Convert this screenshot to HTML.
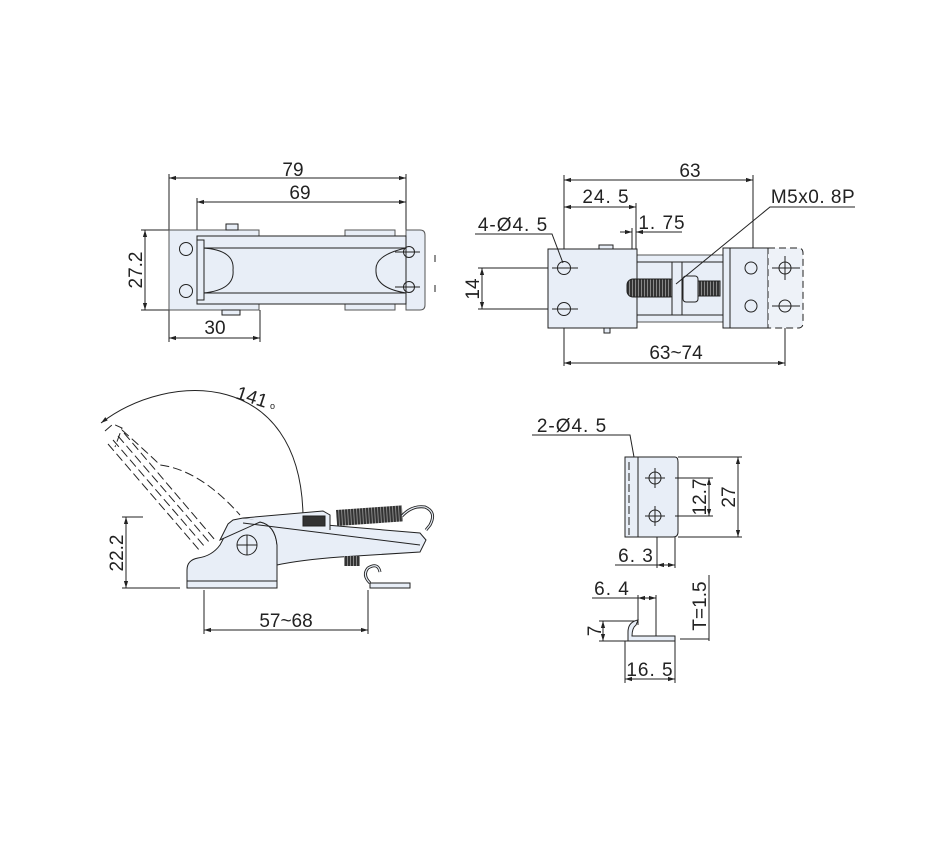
<!DOCTYPE html>
<html><head><meta charset="utf-8"><style>
html,body{margin:0;padding:0;background:#fff;}
svg{display:block;}
text{font-family:"Liberation Sans",Arial,sans-serif;font-size:19px;fill:#222;}
</style></head><body>
<svg width="928" height="858" viewBox="0 0 928 858" xmlns="http://www.w3.org/2000/svg">
<defs>
<marker id="a" viewBox="0 0 10 10" refX="10" refY="5" markerWidth="7" markerHeight="7" orient="auto-start-reverse"><path d="M0,2 L10,5 L0,8 z" fill="#222"/></marker>
<pattern id="thr" width="3" height="10" patternUnits="userSpaceOnUse"><rect width="3" height="10" fill="#888"/><rect width="2" height="10" fill="#333"/></pattern>
</defs>
<g stroke="#222" stroke-width="1" fill="none">

<!-- ===== TOP LEFT ===== -->
<line x1="169" y1="174" x2="169" y2="342"/>
<line x1="197" y1="198" x2="197" y2="240"/>
<line x1="406" y1="174" x2="406" y2="245"/>
<line x1="260" y1="310" x2="260" y2="342"/>
<line x1="169" y1="178" x2="406" y2="178" marker-start="url(#a)" marker-end="url(#a)"/>
<line x1="197" y1="202" x2="406" y2="202" marker-start="url(#a)" marker-end="url(#a)"/>
<line x1="169" y1="338" x2="260" y2="338" marker-start="url(#a)" marker-end="url(#a)"/>
<line x1="141" y1="230" x2="190" y2="230"/>
<line x1="141" y1="310" x2="190" y2="310"/>
<line x1="145" y1="230" x2="145" y2="310" marker-start="url(#a)" marker-end="url(#a)"/>
<rect x="169" y="230" width="90" height="80" fill="#e8eef7" stroke="#555"/>
<rect x="345" y="230" width="50" height="80" fill="#e8eef7" stroke="#555"/>
<rect x="226" y="224" width="12" height="6" fill="#e8eef7"/>
<rect x="222" y="310" width="18" height="5" fill="#e8eef7"/>
<path d="M406,230 H420 Q425,230 425,235 V305 Q425,310 420,310 H406 Z" fill="#e8eef7" stroke="#555"/>
<line x1="435" y1="255" x2="435" y2="262" />
<line x1="435" y1="285" x2="435" y2="292" />
<rect x="197" y="236" width="209" height="68" fill="#e8eef7"/>
<line x1="203" y1="248" x2="406" y2="248"/>
<line x1="203" y1="293" x2="406" y2="293"/>
<path d="M203,248 Q235,250 233,270 Q235,290 203,293"/>
<path d="M406,248 Q375,255 376,270 Q375,288 406,293"/>
<rect x="197" y="240" width="7" height="60" fill="#e8eef7"/>
<circle cx="186" cy="249" r="6.5"/><circle cx="186" cy="291" r="6.5"/>
<circle cx="409" cy="252" r="5.5"/><circle cx="409" cy="287" r="5.5"/>
<line x1="395" y1="252" x2="420" y2="252"/><line x1="395" y1="287" x2="420" y2="287"/>

<!-- ===== TOP RIGHT ===== -->
<line x1="564" y1="175" x2="564" y2="366"/>
<line x1="753" y1="175" x2="753" y2="268"/>
<line x1="785" y1="305" x2="785" y2="366"/>
<line x1="636" y1="203" x2="636" y2="250"/>
<line x1="632" y1="228" x2="632" y2="290"/>
<line x1="564" y1="180" x2="753" y2="180" marker-start="url(#a)" marker-end="url(#a)"/>
<line x1="564" y1="207" x2="636" y2="207" marker-start="url(#a)" marker-end="url(#a)"/>
<line x1="620" y1="232" x2="632" y2="232" marker-end="url(#a)"/>
<line x1="648" y1="232" x2="636" y2="232" marker-end="url(#a)"/>
<line x1="648" y1="232" x2="682" y2="232"/>
<line x1="564" y1="363" x2="785" y2="363" marker-start="url(#a)" marker-end="url(#a)"/>
<line x1="478" y1="268" x2="578" y2="268"/>
<line x1="478" y1="309" x2="578" y2="309"/>
<line x1="482" y1="268" x2="482" y2="309" marker-start="url(#a)" marker-end="url(#a)"/>
<rect x="637" y="255" width="86" height="67" fill="#e8eef7" stroke="#555"/>
<line x1="637" y1="262" x2="723" y2="262"/><line x1="637" y1="315" x2="723" y2="315"/>
<rect x="548" y="249" width="89" height="79" fill="#e8eef7"/>
<rect x="599" y="245" width="14" height="4" fill="#e8eef7"/>
<rect x="604" y="328" width="6" height="5" fill="#e8eef7"/>
<rect x="627" y="279" width="49" height="18" rx="6" fill="url(#thr)"/>
<rect x="698" y="281" width="22" height="15" fill="url(#thr)"/>
<rect x="672" y="262" width="10" height="53" fill="#e8eef7"/>
<rect x="683" y="276" width="15" height="26" rx="3" fill="#e8eef7"/>
<rect x="723" y="248" width="45" height="80" fill="#e8eef7"/>
<line x1="730" y1="248" x2="730" y2="328"/>
<path d="M768,248 h30 q5,0 5,5 v70 q0,5 -5,5 h-30 z" fill="#eef2f8" stroke-dasharray="7,4"/>
<circle cx="564" cy="268" r="6.5"/><circle cx="564" cy="309" r="6.5"/>
<line x1="552" y1="268" x2="578" y2="268"/><line x1="552" y1="309" x2="578" y2="309"/>
<circle cx="751" cy="268" r="6"/><circle cx="751" cy="306" r="6"/>
<circle cx="785" cy="268" r="6"/><circle cx="785" cy="306" r="6"/>
<line x1="772" y1="268" x2="800" y2="268"/><line x1="772" y1="306" x2="800" y2="306"/>
<line x1="785" y1="256" x2="785" y2="280"/>
<polyline points="475,234 552,234 563,263"/>
<polyline points="855,207 770,207 676,284"/>

<!-- ===== BOTTOM LEFT ===== -->
<line x1="122" y1="517" x2="143" y2="517"/>
<line x1="122" y1="588" x2="180" y2="588"/>
<line x1="126" y1="517" x2="126" y2="588" marker-start="url(#a)" marker-end="url(#a)"/>
<line x1="204" y1="590" x2="204" y2="634"/>
<line x1="368" y1="590" x2="368" y2="634"/>
<line x1="204" y1="630" x2="368" y2="630" marker-start="url(#a)" marker-end="url(#a)"/>
<path d="M101,423 C170,370 300,370 303,515" marker-start="url(#a)"/>
<g stroke-dasharray="9,4">
<path d="M105,431 L113,424 L122,428 L115,447"/>
<line x1="113" y1="440" x2="205" y2="547"/>
<line x1="118" y1="436" x2="210" y2="543"/>
<line x1="124" y1="433" x2="215" y2="540"/>
<line x1="108" y1="444" x2="200" y2="551"/>
<path d="M122,430 Q150,455 160,465 Q200,470 240,515"/>
</g>
<path d="M187,588 V570 Q187,560 198,558 Q212,556 220,545 L228,530 Q238,522 260,522 Q275,525 277,545 V588 Z" fill="#e8eef7"/>
<line x1="187" y1="581" x2="277" y2="581"/>
<path d="M220,540 L228,524 L233,520 L243,518 L420,533 L426,540 L420,552 L340,557 Q300,560 277,565 L277,545 Q275,525 260,522 Z" fill="#e8eef7"/>
<line x1="243" y1="523" x2="420" y2="545"/>
<path d="M243,518 L323,511 L330,515 L330,530" fill="#e8eef7"/>
<rect x="303" y="516" width="22" height="10" fill="#333"/>
<rect x="336" y="510" width="66" height="16" fill="url(#thr)" stroke="none" transform="rotate(-4 336 510)"/>
<path d="M402,516 Q412,505 425,507 Q437,512 430,525 L426,530" stroke-width="3" />
<path d="M402,516 Q412,505 425,507 Q437,512 430,525 L426,530" stroke="#e8eef7" stroke-width="1.2"/>
<rect x="344" y="556" width="16" height="10" fill="url(#thr)" stroke="none"/>
<path d="M370,583 Q362,575 368,568 Q378,562 380,572" stroke-width="3"/>
<path d="M370,583 Q362,575 368,568 Q378,562 380,572" stroke="#e8eef7" stroke-width="1.2"/>
<rect x="370" y="583" width="40" height="5" fill="#e8eef7"/>
<circle cx="247" cy="545" r="10"/>
<line x1="237" y1="545" x2="257" y2="545"/><line x1="247" y1="535" x2="247" y2="555"/>

<!-- ===== BOTTOM RIGHT ===== -->
<polyline points="532,435 630,435 634,457"/>
<path d="M625,457 H675 Q678,457 678,462 V532 Q678,537 673,537 H625 Z" fill="#e8eef7"/>
<line x1="638" y1="457" x2="638" y2="537"/>
<line x1="629" y1="462" x2="629" y2="535" stroke-dasharray="8,3"/>
<circle cx="655" cy="478" r="6"/><circle cx="655" cy="516" r="6"/>
<line x1="645" y1="478" x2="665" y2="478"/><line x1="655" y1="468" x2="655" y2="488"/>
<line x1="645" y1="516" x2="665" y2="516"/><line x1="655" y1="506" x2="655" y2="526"/>
<line x1="678" y1="457" x2="742" y2="457"/>
<line x1="678" y1="537" x2="742" y2="537"/>
<line x1="675" y1="478" x2="713" y2="478"/>
<line x1="675" y1="516" x2="713" y2="516"/>
<line x1="738" y1="457" x2="738" y2="537" marker-start="url(#a)" marker-end="url(#a)"/>
<line x1="709" y1="478" x2="709" y2="516" marker-start="url(#a)" marker-end="url(#a)"/>
<line x1="657" y1="537" x2="657" y2="568"/>
<line x1="675" y1="537" x2="675" y2="568"/>
<line x1="615" y1="565" x2="657" y2="565"/>
<line x1="657" y1="565" x2="675" y2="565" marker-start="url(#a)" marker-end="url(#a)"/>
<line x1="592" y1="598" x2="638" y2="598"/>
<line x1="638" y1="598" x2="656" y2="598" marker-start="url(#a)" marker-end="url(#a)"/>
<line x1="638" y1="595" x2="638" y2="625"/>
<line x1="656" y1="595" x2="656" y2="641"/>
<path d="M628,641 V632 Q628,622 638,620 L636,625 Q632,628 632,636 H675 V641 Z" fill="#e8eef7"/>
<line x1="599" y1="621" x2="635" y2="621"/>
<line x1="599" y1="641" x2="628" y2="641"/>
<line x1="603" y1="621" x2="603" y2="641" marker-start="url(#a)" marker-end="url(#a)"/>
<line x1="625" y1="641" x2="625" y2="683"/>
<line x1="675" y1="641" x2="675" y2="683"/>
<line x1="625" y1="679" x2="675" y2="679" marker-start="url(#a)" marker-end="url(#a)"/>
<line x1="709" y1="575" x2="709" y2="641"/>
<line x1="680" y1="639" x2="709" y2="639"/>
</g>

<text x="293" y="176" text-anchor="middle">79</text>
<text x="300" y="199" text-anchor="middle">69</text>
<text x="215" y="334" text-anchor="middle">30</text>
<text transform="translate(142,270) rotate(-90)" text-anchor="middle">27.2</text>
<text x="690" y="177" text-anchor="middle">63</text>
<text x="606" y="203" text-anchor="middle" letter-spacing="1">24. 5</text>
<text x="662" y="229" text-anchor="middle" letter-spacing="1">1. 75</text>
<text x="813" y="203" text-anchor="middle" letter-spacing="0.5">M5x0. 8P</text>
<text x="513" y="231" text-anchor="middle" letter-spacing="1">4-Ø4. 5</text>
<text transform="translate(479,289) rotate(-90)" text-anchor="middle">14</text>
<text x="676" y="359" text-anchor="middle">63~74</text>
<text transform="translate(250,403) rotate(18)" text-anchor="middle">141</text>
<text x="270" y="409" style="font-size:9px">o</text>
<text transform="translate(123,553) rotate(-90)" text-anchor="middle">22.2</text>
<text x="286" y="627" text-anchor="middle">57~68</text>
<text x="572" y="432" text-anchor="middle" letter-spacing="1">2-Ø4. 5</text>
<text transform="translate(706,497) rotate(-90)" text-anchor="middle">12.7</text>
<text transform="translate(735,497) rotate(-90)" text-anchor="middle">27</text>
<text x="636" y="562" text-anchor="middle" letter-spacing="1">6. 3</text>
<text x="612" y="595" text-anchor="middle" letter-spacing="1">6. 4</text>
<text transform="translate(601,631) rotate(-90)" text-anchor="middle">7</text>
<text x="650" y="676" text-anchor="middle" letter-spacing="1">16. 5</text>
<text transform="translate(706,606) rotate(-90)" text-anchor="middle">T=1.5</text>
</svg>
</body></html>
